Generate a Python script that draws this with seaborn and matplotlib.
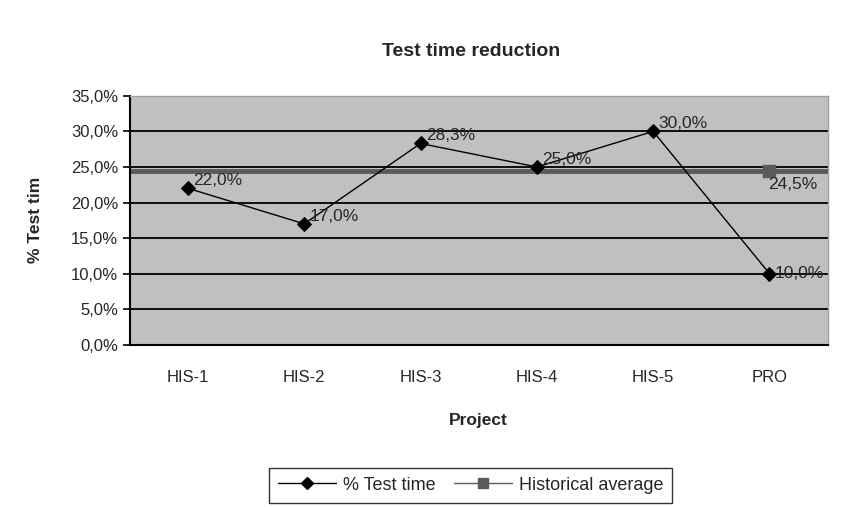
import numpy as np
import pandas as pd
import matplotlib
matplotlib.use("Agg")
import matplotlib.pyplot as plt
import seaborn as sns
from matplotlib.lines import Line2D
from matplotlib.ticker import FuncFormatter, FixedLocator

projects = ["HIS-1", "HIS-2", "HIS-3", "HIS-4", "HIS-5", "PRO"]
test_time = [22.0, 17.0, 28.3, 25.0, 30.0, 10.0]
hist_avg = 24.5

sns.set_style("white")
plt.rcParams['font.family'] = ['Liberation Sans', 'DejaVu Sans']

df = pd.DataFrame({"Project": projects, "pct": test_time})

fig = plt.figure(figsize=(8.48, 5.07), dpi=100)
ax = fig.add_axes([0.153, 0.320, 0.823, 0.491])
ax.set_facecolor("#C0C0C0")

# gridlines
for v in range(0, 36, 5):
    ax.axhline(v, color="black", lw=1.3, zorder=1)

# historical average across the plot, marker only at PRO
ax.axhline(hist_avg, color="#5a5a5a", lw=3.5, zorder=2)
ax.scatter([len(projects) - 1], [hist_avg], marker="s", s=70, color="#5a5a5a", zorder=3)

sns.lineplot(data=df, x="Project", y="pct", color="black", lw=1, marker="D",
             markersize=7.5, markeredgecolor="black", ax=ax, zorder=4, sort=False)

fmt = lambda v: f"{v:.1f}%".replace(".", ",")
for i, v in enumerate(test_time):
    ax.annotate(fmt(v), (i, v), xytext=(4, 0), textcoords="offset points",
                fontsize=12.5, ha="left", va="bottom" if i != 5 else "center", zorder=5)
ax.annotate(fmt(hist_avg), (len(projects) - 1, hist_avg), xytext=(-1, -5),
            textcoords="offset points", fontsize=12.5, ha="left", va="top", zorder=5)

ax.set_xlim(-0.5, len(projects) - 0.5)
ax.set_ylim(0, 35)
ax.yaxis.set_major_locator(FixedLocator(np.arange(0, 36, 5)))
ax.yaxis.set_major_formatter(FuncFormatter(lambda v, p: fmt(v)))
ax.set_xticks(range(len(projects)))
ax.set_xticklabels(projects)
ax.set_xticks(np.arange(-0.5, len(projects), 1), minor=True)
ax.tick_params(axis="x", which="major", length=0, pad=18, labelsize=12)
ax.tick_params(axis="x", which="minor", length=5, width=1.2, color="black", direction="out")
ax.tick_params(axis="y", length=5, width=1.2, color="black", direction="out", labelsize=12, left=True)

for s in ["left", "bottom"]:
    ax.spines[s].set_color("black")
    ax.spines[s].set_linewidth(1.5)
for s in ["top", "right"]:
    ax.spines[s].set_color("#a0a0a0")
    ax.spines[s].set_linewidth(1)

ax.set_xlabel("Project", fontsize=12.5, fontweight="bold", labelpad=20)
ax.set_ylabel("% Test tim", fontsize=12.5, fontweight="bold", labelpad=20)
fig.suptitle("Test time reduction", fontsize=14, fontweight="bold", x=0.555, y=0.915)

handles = [
    Line2D([0], [0], color="black", lw=1, marker="D", markersize=6),
    Line2D([0], [0], color="#5a5a5a", lw=1, marker="s", markersize=7),
]
leg = fig.legend(handles, ["% Test time", "Historical average"], loc="center",
                 bbox_to_anchor=(0.555, 0.043), ncol=2, frameon=True, fancybox=False,
                 fontsize=13, handlelength=3.2, handletextpad=0.4, columnspacing=1.0,
                 borderpad=0.5)
leg.get_frame().set_edgecolor("black")
leg.get_frame().set_linewidth(1)

fig.savefig("out.png", dpi=100)
